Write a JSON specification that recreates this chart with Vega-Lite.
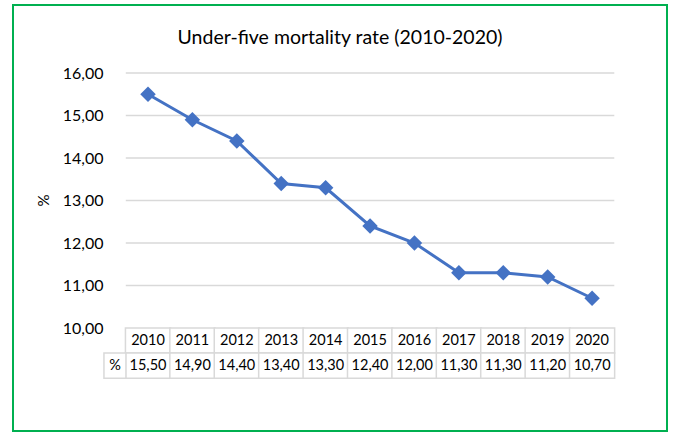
{
  "$schema": "https://vega.github.io/schema/vega-lite/v6.json",
  "width": 654,
  "height": 426,
  "autosize": {"type": "none"},
  "padding": {"left": 13, "top": 5, "right": 6, "bottom": 3},
  "background": "white",
  "title": {
    "text": "Under-five mortality rate (2010-2020)",
    "anchor": "middle",
    "frame": "group",
    "offset": 0,
    "dy": 58,
    "baseline": "alphabetic",
    "font": "Lato",
    "fontSize": 19.5,
    "fontWeight": "normal",
    "color": "#000000"
  },
  "config": {
    "view": {"stroke": "#00B050", "strokeWidth": 2},
    "locale": {"number": {"decimal": ",", "thousands": ".", "grouping": [3], "currency": ["", " €"]}},
    "text": {"font": "Lato"}
  },
  "data": {
    "values": [
      {"year": 2010, "value": 15.5},
      {"year": 2011, "value": 14.9},
      {"year": 2012, "value": 14.4},
      {"year": 2013, "value": 13.4},
      {"year": 2014, "value": 13.3},
      {"year": 2015, "value": 12.4},
      {"year": 2016, "value": 12.0},
      {"year": 2017, "value": 11.3},
      {"year": 2018, "value": 11.3},
      {"year": 2019, "value": 11.2},
      {"year": 2020, "value": 10.7}
    ]
  },
  "layer": [
    {
      "data": {"values": [{"g": 11}, {"g": 12}, {"g": 13}, {"g": 14}, {"g": 15}, {"g": 16}]},
      "mark": {"type": "rule", "color": "#d9d9d9", "strokeWidth": 1.3},
      "encoding": {
        "y": {
          "field": "g",
          "type": "quantitative",
          "scale": {"domain": [7.5765, 17.6], "nice": false, "zero": false},
          "axis": {
            "values": [10, 11, 12, 13, 14, 15, 16],
            "format": ".2f",
            "domain": false,
            "ticks": false,
            "tickSize": 0,
            "grid": false,
            "offset": -90,
            "labelPadding": 0,
            "labelFont": "Lato",
            "labelFontSize": 16,
            "labelColor": "#000000",
            "title": "%",
            "titleFont": "Lato",
            "titleFontSize": 15,
            "titleFontWeight": "normal",
            "titleColor": "#000000",
            "titleX": -60,
            "titleY": 195,
            "titleBaseline": "middle"
          }
        },
        "x": {
          "datum": 2009.5,
          "type": "quantitative",
          "scale": {"domain": [2007.073, 2021.574], "nice": false, "zero": false},
          "axis": null
        },
        "x2": {"datum": 2020.5}
      }
    },
    {
      "mark": {"type": "bar", "fill": "white", "stroke": "#d9d9d9", "strokeWidth": 1.5, "size": 45.1},
      "encoding": {
        "x": {"field": "year", "type": "quantitative"},
        "y": {"datum": 10},
        "y2": {"datum": 9.41}
      }
    },
    {
      "mark": {"type": "bar", "fill": "white", "stroke": "#d9d9d9", "strokeWidth": 1.5, "size": 45.1},
      "encoding": {
        "x": {"field": "year", "type": "quantitative"},
        "y": {"datum": 9.41},
        "y2": {"datum": 8.82}
      }
    },
    {
      "data": {"values": [{"label": "%"}]},
      "layer": [
        {
          "mark": {"type": "bar", "fill": "white", "stroke": "#d9d9d9", "strokeWidth": 1.5, "size": 22},
          "encoding": {
            "x": {"datum": 2009.256, "type": "quantitative"},
            "y": {"datum": 9.41},
            "y2": {"datum": 8.82}
          }
        },
        {
          "mark": {"type": "text", "fontSize": 14.5, "color": "#000000", "baseline": "middle"},
          "encoding": {
            "x": {"datum": 2009.256, "type": "quantitative"},
            "y": {"datum": 9.115},
            "text": {"field": "label"}
          }
        }
      ]
    },
    {
      "mark": {"type": "text", "fontSize": 14.5, "color": "#000000", "baseline": "middle"},
      "encoding": {
        "x": {"field": "year", "type": "quantitative"},
        "y": {"datum": 9.705},
        "text": {"field": "year", "type": "ordinal"}
      }
    },
    {
      "mark": {"type": "text", "fontSize": 14.5, "color": "#000000", "baseline": "middle"},
      "encoding": {
        "x": {"field": "year", "type": "quantitative"},
        "y": {"datum": 9.115},
        "text": {"field": "value", "type": "quantitative", "format": ".2f"}
      }
    },
    {
      "mark": {
        "type": "line",
        "color": "#4472C4",
        "strokeWidth": 3,
        "point": {"shape": "diamond", "size": 240, "filled": true, "color": "#4472C4", "opacity": 1}
      },
      "encoding": {
        "x": {"field": "year", "type": "quantitative"},
        "y": {"field": "value", "type": "quantitative"}
      }
    }
  ]
}
